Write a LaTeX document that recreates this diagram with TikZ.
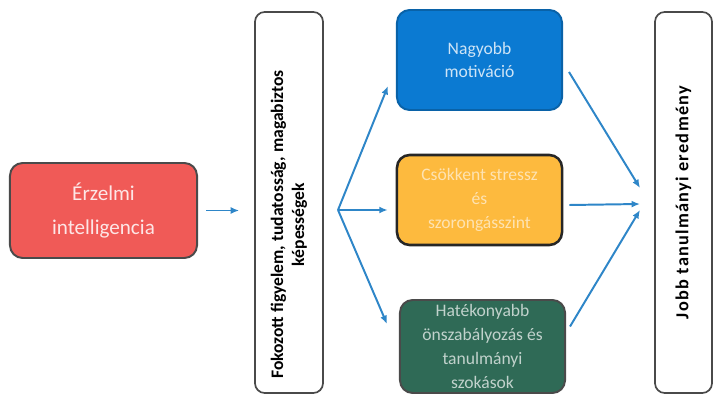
\documentclass[tikz,border=0pt]{standalone}
\usepackage{fontspec}
\setmainfont{Carlito}
\usepackage{tikz}
\usetikzlibrary{calc,positioning,arrows.meta}
\definecolor{eired}{HTML}{F05A57}
\definecolor{eiblue}{HTML}{0B7AD2}
\definecolor{eiyellow}{HTML}{FDBA3E}
\definecolor{eigreen}{HTML}{2F6A56}
\definecolor{eiarrow}{HTML}{2E86C8}
\definecolor{eiframe}{HTML}{4A4A4A}

\begin{document}
\begin{tikzpicture}[x=0.025cm, y=-0.025cm,
	effect/.style={rounded corners=9pt, draw=eiframe, line width=1.4pt, align=center, font=\fontsize{12.5}{17}\selectfont, inner sep=2pt},
	column/.style={rounded corners=7pt, draw=eiframe, line width=1.2pt, fill=white, rotate=90, align=center, font=\fontsize{12.5}{15}\selectfont\bfseries, minimum width=9.525cm},
	link/.style={-{Latex[length=6pt,width=5pt]}, draw=eiarrow, line width=1.4pt}]
\useasboundingbox (0,0) rectangle (717,400);
					\node [effect, fill=eired, text=white!85!eired, minimum width=4.675cm, minimum height=2.375cm, font=\fontsize{15}{24}\selectfont] (ei) at (103.5, 210.5) {Érzelmi\\intelligencia};
					\node [column, minimum height=1.7cm] (focus) at (289, 202.5) {Fokozott figyelem, tudatosság, magabiztos\hspace*{1.1cm}\mbox{}\\képességek\hspace*{1.1cm}\mbox{}};
					
					\node [effect, fill=eiblue, text=white!80!eiblue, draw=eiblue!80!black, minimum width=4.125cm, minimum height=2.5cm, font=\fontsize{12.5}{16}\selectfont] (motiv) at (479.5, 60) {Nagyobb\\motiváció};
					\node [effect, fill=eiyellow, text=white!60!eiyellow, draw=black!85, line width=1.8pt, minimum width=4.125cm, minimum height=2.25cm] (stress) at (479.5, 200) {Csökkent stressz\\és\\szorongásszint};
					\node [effect, fill=eigreen, text=white!70!eigreen, minimum width=4.125cm, minimum height=2.325cm] (selfreg) at (482.5, 346.5) {Hatékonyabb\\önszabályozás és\\tanulmányi\\szokások};
					
					\node [column, minimum height=1.425cm, font=\fontsize{13}{16}\selectfont\bfseries\addfontfeature{LetterSpace=7}] (result) at (683.5, 202.5) {Jobb tanulmányi eredmény};
					
					\coordinate (fork) at (338, 210);
					\coordinate (join) at (640, 188);
					
					\draw [link] ($(ei.east)+(8,0)$) -- ($(focus.north |- ei.east)+(-15,0)$);
					\draw [link] (fork) -- ($(motiv.south west)+(-8,-25)$);
					\draw [link] (fork) -- ($(stress.west)+(-8,10)$);
					\draw [link] (fork) -- ($(selfreg.north west)+(-12,25)$);
					\draw [link] ($(motiv.east)+(6,12)$) -- (join);
					\draw [link] ($(stress.east)+(6,5)$) -- ($(join)+(0,16)$);
					\draw [link] ($(selfreg.east)+(4,-20)$) -- ($(join)+(0,22)$);
\end{tikzpicture}
\end{document}
